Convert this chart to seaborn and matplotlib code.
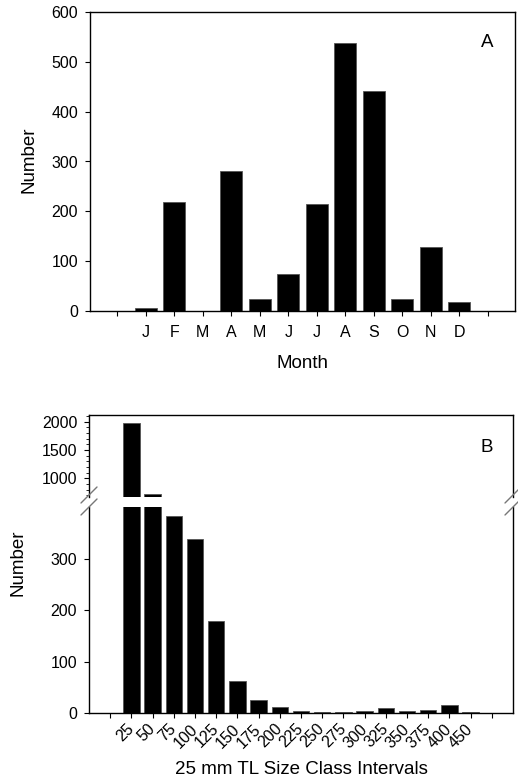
import numpy as np
import pandas as pd
import seaborn as sns
import matplotlib.pyplot as plt
from matplotlib.ticker import MultipleLocator

# Panel A - monthly counts
months = ['J', 'F', 'M', 'A', 'M', 'J', 'J', 'A', 'S', 'O', 'N', 'D']
month_counts = [5, 218, 0, 280, 23, 73, 215, 538, 441, 23, 129, 18]

# Panel B - 25 mm TL size classes
size_classes = ['25', '50', '75', '100', '125', '150', '175', '200', '225',
                '250', '275', '300', '325', '350', '375', '400', '450']
size_counts = [1970, 730, 382, 338, 179, 63, 25, 12, 5, 3, 2, 5, 10, 5, 6, 17, 2]

sns.set_style('ticks')
plt.rcParams['font.family'] = ['Liberation Sans', 'DejaVu Sans']
plt.rcParams.update({
    'xtick.major.size': 3.5, 'ytick.major.size': 3.5,
    'xtick.major.pad': 5, 'ytick.major.pad': 5,
    'axes.linewidth': 1.0, 'axes.edgecolor': 'black',
    'xtick.color': 'black', 'ytick.color': 'black',
    'text.color': 'black', 'axes.labelcolor': 'black',
})

W, H = 518, 782
fig = plt.figure(figsize=(W / 100, H / 100), dpi=100)


def fig_rect(left, top, right, bottom):
    return [left / W, 1 - bottom / H, (right - left) / W, (bottom - top) / H]


bar_kw = dict(native_scale=True, width=0.77, color='black', saturation=1,
              edgecolor='#555555', linewidth=0.6)
TICK_FS = 11.5
LABEL_FS = 13.5

# ---- Panel A ----
ax_a = fig.add_axes(fig_rect(90, 12.3, 515, 310.7))
df_a = pd.DataFrame({'pos': np.arange(1, len(months) + 1), 'count': month_counts})
sns.barplot(data=df_a, x='pos', y='count', ax=ax_a, **bar_kw)
ax_a.set_xlim(-0.95, 13.95)
ax_a.set_ylim(0, 600)
ax_a.set_xticks(np.arange(0, 14))
ax_a.set_xticklabels([''] + months + [''], fontsize=TICK_FS)
ax_a.tick_params(axis='x', pad=7)
ax_a.set_yticks(np.arange(0, 601, 100))
ax_a.tick_params(axis='y', labelsize=TICK_FS)
ax_a.set_xlabel('')
ax_a.set_ylabel('')
ax_a.text(0.934, 0.90, 'A', transform=ax_a.transAxes, fontsize=LABEL_FS,
          ha='center', va='center')
fig.text(302 / W, 1 - 364 / H, 'Month', ha='center', va='center', fontsize=LABEL_FS)
fig.text(29 / W, 1 - 160 / H, 'Number', ha='center', va='center',
         rotation=90, fontsize=LABEL_FS)

# ---- Panel B (broken axis) ----
df_b = pd.DataFrame({'pos': np.arange(1, len(size_classes) + 1), 'count': size_counts})

ax_top = fig.add_axes(fig_rect(89, 415, 513, 497))
ax_bot = fig.add_axes(fig_rect(89, 507, 513, 713.3))

for ax in (ax_top, ax_bot):
    sns.barplot(data=df_b, x='pos', y='count', ax=ax, **bar_kw)
    ax.set_xlim(-1, 19)
    ax.set_xlabel('')
    ax.set_ylabel('')
    ax.tick_params(axis='y', labelsize=TICK_FS)

ax_top.set_ylim(670, 2118)
ax_top.set_yticks([1000, 1500, 2000])
ax_top.yaxis.set_minor_locator(MultipleLocator(100))
ax_top.tick_params(axis='y', which='minor', length=2.5)
ax_top.spines['bottom'].set_visible(False)
ax_top.set_xticks([])
ax_top.text(0.939, 0.6, 'B', transform=ax_top.transAxes, fontsize=LABEL_FS,
            ha='center', va='center')

ax_bot.set_ylim(0, 400)
ax_bot.set_yticks([0, 100, 200, 300])
ax_bot.spines['top'].set_visible(False)
ax_bot.set_xticks(np.arange(0, 19))
ax_bot.set_xticklabels([''] + size_classes + [''], fontsize=TICK_FS,
                       rotation=45, ha='right', va='center',
                       rotation_mode='anchor')
ax_bot.tick_params(axis='x', pad=6)

# break marks on both sides
for xs in (89, 513):
    for yc in (495, 507):
        fig.add_artist(plt.Line2D([(xs - 8) / W, (xs + 8) / W],
                                  [1 - (yc + 8) / H, 1 - (yc - 8) / H],
                                  color='#777777', linewidth=1.0))

fig.text(301 / W, 1 - 770 / H, '25 mm TL Size Class Intervals',
         ha='center', va='center', fontsize=LABEL_FS)
fig.text(18 / W, 1 - 563 / H, 'Number', ha='center', va='center',
         rotation=90, fontsize=LABEL_FS)

fig.savefig('out.png', dpi=100)
